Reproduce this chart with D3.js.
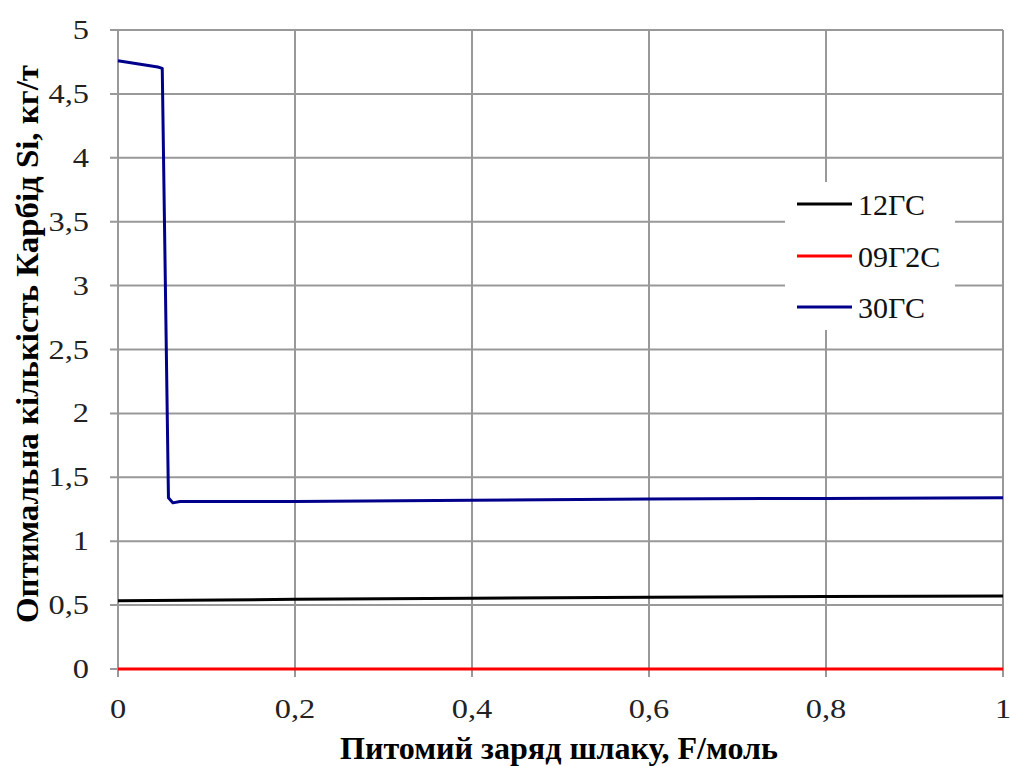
<!DOCTYPE html>
<html><head><meta charset="utf-8">
<script src="https://cdn.jsdelivr.net/npm/d3@7"></script>
<style>body{margin:0;background:#fff}svg{display:block}</style>
</head><body><svg id="c" width="1010" height="766"></svg>
<script>
const xTicks = [0,0.2,0.4,0.6,0.8,1];
const yTicks = [0,0.5,1,1.5,2,2.5,3,3.5,4,4.5,5];
const seriesNames = ["12ГС","09Г2С","30ГС"];
const seriesColors = ["#000000","#ff0000","#00008b"];
const s12GS = [[0,0.535],[0.2,0.545],[0.4,0.553],[0.6,0.562],[0.8,0.568],[1.0,0.571]];
const s09G2S = [[0,0],[0.2,0],[0.4,0],[0.6,0],[0.8,0],[1.0,0]];
const s30GS = [[0,4.76],[0.045,4.71],[0.05,4.70],[0.057,1.34],[0.062,1.30],[0.07,1.31],[0.2,1.31],[0.4,1.32],[0.6,1.33],[0.8,1.335],[1.0,1.34]];
const series=[s12GS,s09G2S,s30GS];
const FF="'Liberation Serif','Times New Roman','DejaVu Serif',serif";
const svg=d3.select("#c").attr("font-family",FF);
const x=d3.scaleLinear().domain([0,1]).range([118,1003]);
const y=d3.scaleLinear().domain([0,5]).range([669,30]);
const fmt=d=>String(d).replace(".",",");
const g=svg.append("g");
g.selectAll(".vg").data(xTicks).join("line").attr("x1",d=>x(d)).attr("x2",d=>x(d)).attr("y1",y(5)).attr("y2",y(0)+8).attr("stroke","#999").attr("stroke-width",2);
g.selectAll(".hg").data(yTicks).join("line").attr("x1",x(0)-8).attr("x2",x(1)).attr("y1",d=>y(d)).attr("y2",d=>y(d)).attr("stroke","#999").attr("stroke-width",2);
svg.append("g").selectAll("text").data(yTicks).join("text").attr("font-family",FF).attr("transform",d=>`translate(89,${y(d)+9}) scale(1.2,1)`).attr("text-anchor","end").attr("font-size",27).attr("fill","#222").text(fmt);
svg.append("g").selectAll("text").data(xTicks).join("text").attr("font-family",FF).attr("transform",d=>`translate(${x(d)},718) scale(1.2,1)`).attr("text-anchor","middle").attr("font-size",27).attr("fill","#222").text(fmt);
const line=d3.line().x(d=>x(d[0])).y(d=>y(d[1]));
svg.append("g").selectAll("path").data(series).join("path").attr("d",line).attr("fill","none").attr("stroke",(d,i)=>seriesColors[i]).attr("stroke-width",3).attr("stroke-linejoin","round");
const lg=svg.append("g");
lg.append("rect").attr("x",785).attr("y",182).attr("width",170).attr("height",148).attr("fill","#fff");
const ly=[204,256,307];
seriesNames.forEach((n,i)=>{
 lg.append("line").attr("x1",797).attr("x2",852).attr("y1",ly[i]).attr("y2",ly[i]).attr("stroke",seriesColors[i]).attr("stroke-width",3);
 lg.append("text").attr("font-family",FF).attr("x",858).attr("y",ly[i]+11).attr("font-size",30).attr("fill","#111").text(n);
});
svg.append("text").attr("font-family",FF).attr("x",559).attr("y",759).attr("text-anchor","middle").attr("font-size",31).attr("font-weight","bold").attr("textLength",438).attr("lengthAdjust","spacingAndGlyphs").text("Питомий заряд шлаку, F/моль");
svg.append("text").attr("font-family",FF).attr("transform","translate(38,344) rotate(-90)").attr("text-anchor","middle").attr("font-size",31).attr("font-weight","bold").attr("textLength",558).attr("lengthAdjust","spacingAndGlyphs").text("Оптимальна кількість Карбід Si, кг/т");
</script></body></html>
